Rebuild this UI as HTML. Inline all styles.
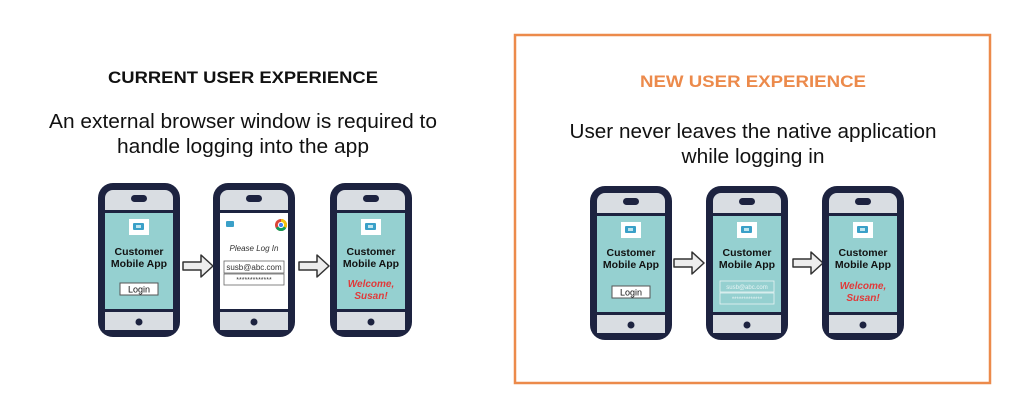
<!DOCTYPE html>
<html><head><style>
html,body{margin:0;padding:0;background:#fff;}
svg{display:block;font-family:"Liberation Sans",sans-serif;}
</style></head><body>
<svg width="1024" height="405" viewBox="0 0 1024 405" xmlns="http://www.w3.org/2000/svg">
<defs>
<g id="phone">
  <rect x="0" y="0" width="82" height="154" rx="15" fill="#1d2340"/>
  <rect x="7" y="7" width="68" height="20" rx="8" fill="#d9dde2"/>
  <rect x="7" y="15" width="68" height="12" fill="#d9dde2"/>
  <rect x="33" y="12" width="16" height="7" rx="3.5" fill="#1d2340"/>
  <rect x="7" y="129" width="68" height="18" fill="#d9dde2"/>
  <rect x="7" y="137" width="68" height="10" rx="8" fill="#d9dde2"/>
  <circle cx="41" cy="139" r="3.5" fill="#1d2340"/>
</g>
<g id="icon">
  <rect x="0" y="0" width="20" height="16" fill="#fff"/>
  <rect x="4" y="4" width="11" height="7" rx="1" fill="#3aa0c8"/>
  <rect x="7" y="6" width="5" height="3" fill="#bfe6f0"/>
</g>
<g id="arrow">
  <path d="M0,7 L18,7 L18,0 L30,11 L18,22 L18,15 L0,15 Z" fill="#ededed" stroke="#333" stroke-width="1.5" stroke-linejoin="round"/>
</g>
</defs>

<!-- LEFT -->
<text x="243" y="83" text-anchor="middle" font-size="17" font-weight="bold" fill="#111" textLength="270" lengthAdjust="spacingAndGlyphs">CURRENT USER EXPERIENCE</text>
<text x="243" y="128" text-anchor="middle" font-size="20" fill="#111" textLength="388" lengthAdjust="spacingAndGlyphs">An external browser window is required to</text>
<text x="243" y="153" text-anchor="middle" font-size="20" fill="#111" textLength="252" lengthAdjust="spacingAndGlyphs">handle logging into the app</text>

<g transform="translate(98,183)">
  <use href="#phone"/>
  <rect x="7" y="30" width="68" height="96" fill="#95d0d0"/>
  <use href="#icon" transform="translate(31,36)"/>
  <text x="41" y="72" text-anchor="middle" font-size="10.5" font-weight="bold" fill="#111">Customer</text>
  <text x="41" y="84" text-anchor="middle" font-size="10.5" font-weight="bold" fill="#111">Mobile App</text>
  <rect x="22" y="100" width="38" height="12" fill="#fff" stroke="#555" stroke-width="1"/>
  <text x="41" y="109.5" text-anchor="middle" font-size="9" fill="#111">Login</text>
</g>
<use href="#arrow" transform="translate(183,255)"/>
<g transform="translate(213,183)">
  <use href="#phone"/>
  <rect x="7" y="30" width="68" height="96" fill="#ffffff"/>
  <rect x="13" y="38" width="8" height="6" rx="1" fill="#3aa0c8"/>
  <circle cx="68" cy="42" r="6" fill="#db4437"/>
  <path d="M68,42 L68,36 A6,6 0 0 1 73.2,45 Z" fill="#f4c20d"/>
  <path d="M68,42 L73.2,45 A6,6 0 0 1 62.8,45 Z" fill="#0f9d58"/>
  <circle cx="68" cy="42" r="2.6" fill="#4285f4" stroke="#fff" stroke-width="1"/>
  <text x="41" y="68" text-anchor="middle" font-size="8" font-style="italic" fill="#333">Please Log In</text>
  <rect x="11" y="78" width="60" height="12" fill="#fff" stroke="#666" stroke-width="0.8"/>
  <text x="41" y="87" text-anchor="middle" font-size="8" fill="#333">susb@abc.com</text>
  <rect x="11" y="91" width="60" height="11" fill="#fff" stroke="#666" stroke-width="0.8"/>
  <text x="41" y="99" text-anchor="middle" font-size="7" fill="#333">*************</text>
</g>
<use href="#arrow" transform="translate(299,255)"/>
<g transform="translate(330,183)">
  <use href="#phone"/>
  <rect x="7" y="30" width="68" height="96" fill="#95d0d0"/>
  <use href="#icon" transform="translate(31,36)"/>
  <text x="41" y="72" text-anchor="middle" font-size="10.5" font-weight="bold" fill="#111">Customer</text>
  <text x="41" y="84" text-anchor="middle" font-size="10.5" font-weight="bold" fill="#111">Mobile App</text>
  <text x="41" y="104" text-anchor="middle" font-size="10" font-weight="bold" font-style="italic" fill="#e03a3a">Welcome,</text>
  <text x="41" y="116" text-anchor="middle" font-size="10" font-weight="bold" font-style="italic" fill="#e03a3a">Susan!</text>
</g>

<!-- RIGHT -->
<rect x="515" y="35" width="475" height="348" fill="none" stroke="#ec8a4b" stroke-width="2.5"/>
<text x="753" y="87" text-anchor="middle" font-size="17" font-weight="bold" fill="#ec8a4b" textLength="226" lengthAdjust="spacingAndGlyphs">NEW USER EXPERIENCE</text>
<text x="753" y="138" text-anchor="middle" font-size="20" fill="#111" textLength="367" lengthAdjust="spacingAndGlyphs">User never leaves the native application</text>
<text x="753" y="163" text-anchor="middle" font-size="20" fill="#111" textLength="143" lengthAdjust="spacingAndGlyphs">while logging in</text>

<g transform="translate(590,186)">
  <use href="#phone"/>
  <rect x="7" y="30" width="68" height="96" fill="#95d0d0"/>
  <use href="#icon" transform="translate(31,36)"/>
  <text x="41" y="70" text-anchor="middle" font-size="10.5" font-weight="bold" fill="#111">Customer</text>
  <text x="41" y="82" text-anchor="middle" font-size="10.5" font-weight="bold" fill="#111">Mobile App</text>
  <rect x="22" y="100" width="38" height="12" fill="#fff" stroke="#555" stroke-width="1"/>
  <text x="41" y="109.5" text-anchor="middle" font-size="9" fill="#111">Login</text>
</g>
<use href="#arrow" transform="translate(674,252)"/>
<g transform="translate(706,186)">
  <use href="#phone"/>
  <rect x="7" y="30" width="68" height="96" fill="#95d0d0"/>
  <use href="#icon" transform="translate(31,36)"/>
  <text x="41" y="70" text-anchor="middle" font-size="10.5" font-weight="bold" fill="#111">Customer</text>
  <text x="41" y="82" text-anchor="middle" font-size="10.5" font-weight="bold" fill="#111">Mobile App</text>
  <rect x="14" y="95" width="54" height="11" fill="none" stroke="#e8f4f4" stroke-width="0.8"/>
  <text x="41" y="103" text-anchor="middle" font-size="6" fill="#e8f4f4">susb@abc.com</text>
  <rect x="14" y="107" width="54" height="11" fill="none" stroke="#e8f4f4" stroke-width="0.8"/>
  <text x="41" y="115" text-anchor="middle" font-size="6" fill="#e8f4f4">*************</text>
</g>
<use href="#arrow" transform="translate(793,252)"/>
<g transform="translate(822,186)">
  <use href="#phone"/>
  <rect x="7" y="30" width="68" height="96" fill="#95d0d0"/>
  <use href="#icon" transform="translate(31,36)"/>
  <text x="41" y="70" text-anchor="middle" font-size="10.5" font-weight="bold" fill="#111">Customer</text>
  <text x="41" y="82" text-anchor="middle" font-size="10.5" font-weight="bold" fill="#111">Mobile App</text>
  <text x="41" y="103" text-anchor="middle" font-size="10" font-weight="bold" font-style="italic" fill="#e03a3a">Welcome,</text>
  <text x="41" y="115" text-anchor="middle" font-size="10" font-weight="bold" font-style="italic" fill="#e03a3a">Susan!</text>
</g>
</svg>
</body></html>
